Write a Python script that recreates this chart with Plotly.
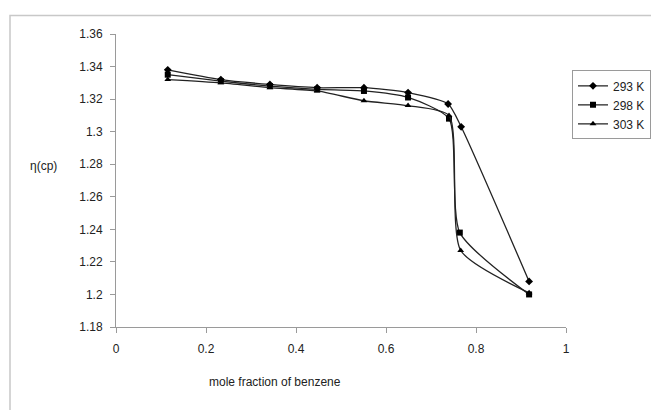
import plotly.graph_objects as go

# Data
x_293 = [0.115, 0.233, 0.342, 0.447, 0.551, 0.649, 0.738, 0.767, 0.918]
y_293 = [1.338, 1.332, 1.329, 1.327, 1.327, 1.324, 1.317, 1.303, 1.208]
x_298 = [0.115, 0.233, 0.342, 0.447, 0.551, 0.649, 0.740, 0.764, 0.918]
y_298 = [1.335, 1.331, 1.328, 1.326, 1.325, 1.321, 1.308, 1.238, 1.200]
x_303 = [0.115, 0.233, 0.342, 0.447, 0.551, 0.649, 0.740, 0.766, 0.918]
y_303 = [1.332, 1.330, 1.327, 1.325, 1.319, 1.316, 1.310, 1.227, 1.201]

x_ticks = [0, 0.2, 0.4, 0.6, 0.8, 1]
x_tick_text = ["0", "0.2", "0.4", "0.6", "0.8", "1"]
y_ticks = [1.18, 1.2, 1.22, 1.24, 1.26, 1.28, 1.3, 1.32, 1.34, 1.36]
y_tick_text = ["1.18", "1.2", "1.22", "1.24", "1.26", "1.28", "1.3", "1.32", "1.34", "1.36"]

series = [
    ("293 K", x_293, y_293, "diamond"),
    ("298 K", x_298, y_298, "square"),
    ("303 K", x_303, y_303, "triangle-up"),
]

FONT = "Liberation Sans, Arial, sans-serif"

fig = go.Figure()
for name, xs, ys, sym in series:
    fig.add_trace(go.Scatter(
        x=xs, y=ys, name=name, mode="lines+markers",
        line=dict(color="#222222", width=1.3, shape="spline", smoothing=0.6),
        marker=dict(symbol=sym, size=6, color="#000000"),
    ))

axis_col = "#9a9a9a"
fig.update_layout(
    width=651, height=410,
    margin=dict(l=116, r=85, t=34, b=83, autoexpand=False),
    paper_bgcolor="white", plot_bgcolor="white",
    font=dict(family=FONT, size=11, color="#222222"),
    showlegend=True,
    legend=dict(
        x=(572 - 116) / 450, y=(327 - 70) / 293.4, xanchor="left", yanchor="top",
        bordercolor="#9a9a9a", borderwidth=1, bgcolor="white",
        font=dict(family=FONT, size=12, color="#222222"),
        tracegroupgap=0,
    ),
    xaxis=dict(
        range=[0, 1], tickvals=x_ticks, ticktext=x_tick_text,
        showgrid=False, zeroline=False, showline=True, linecolor=axis_col,
        linewidth=1, ticks="outside", ticklen=5, tickcolor=axis_col,
        ticklabelstandoff=6,
        tickfont=dict(family=FONT, size=12, color="#222222"),
    ),
    yaxis=dict(
        range=[1.18, 1.36], tickvals=y_ticks, ticktext=y_tick_text,
        showgrid=False, zeroline=False, showline=True, linecolor=axis_col,
        linewidth=1, ticks="outside", ticklen=5, tickcolor=axis_col,
        ticklabelstandoff=5,
        tickfont=dict(family=FONT, size=12, color="#222222"),
    ),
    annotations=[
        dict(text="η(cp)", xref="paper", yref="paper",
             x=(43 - 116) / 450, y=(327 - 166) / 293.4,
             showarrow=False, xanchor="center", yanchor="middle",
             font=dict(family=FONT, size=12, color="#222222")),
        dict(text="mole fraction of benzene", xref="paper", yref="paper",
             x=(275 - 116) / 450, y=(327 - 382) / 293.4,
             showarrow=False, xanchor="center", yanchor="middle",
             font=dict(family=FONT, size=12, color="#222222")),
    ],
    shapes=[
        dict(type="rect", xref="paper", yref="paper",
             x0=(10 - 116) / 450, x1=(700 - 116) / 450,
             y0=(327 - 460) / 293.4, y1=(327 - 15) / 293.4,
             line=dict(color="#c8c8c8", width=1.5), fillcolor="rgba(0,0,0,0)",
             layer="below"),
    ],
)

fig.write_html("out.html")
